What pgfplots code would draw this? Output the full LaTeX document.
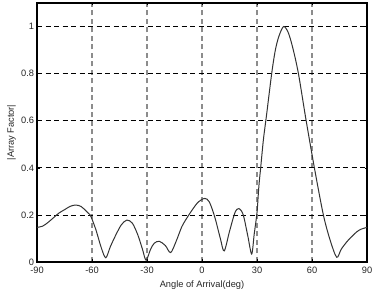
\documentclass[border=0pt]{standalone}
\usepackage{fontspec}
\setmainfont{Liberation Sans}
\usepackage{pgfplots}
\pgfplotsset{compat=1.18}
\begin{document}
\begin{tikzpicture}
\begin{axis}[name=ax,
  scale only axis, width=330bp, height=259bp,
  xmin=-90, xmax=90, ymin=0, ymax=1.1,
  xtick={-90,-60,-30,0,30,60,90},
  xticklabels={-90,-60,-30,0,30,60,90},
  ytick={0,0.2,0.4,0.6,0.8,1},
  yticklabels={0,0.2,0.4,0.6,0.8,1},
  tick label style={font=\fontsize{9.3}{11}\selectfont, color=black!85},
  label style={font=\fontsize{9.3}{11}\selectfont, color=black!85},
  xlabel={Angle of Arrival(deg)},
  ylabel={|Array Factor|},
  ylabel style={yshift=-1.5bp},
  xticklabel style={yshift=-1.5bp},
  yticklabel style={xshift=0.5bp},
  axis line style={black, line width=1.1bp},
  tick style={black, line width=0.6bp},
  tick align=inside, major tick length=2.5bp,
  xmajorgrids, ymajorgrids,
  x grid style={black!45, line width=1.1bp, dash pattern=on 5bp off 3.5bp},
  y grid style={black, line width=0.8bp, dash pattern=on 5bp off 3.5bp},
]
\addplot[color=black!80, line width=1bp, smooth, tension=0.5] coordinates {
(-90,0.147) (-87,0.152) (-84,0.168) (-81,0.188) (-78,0.208) (-75,0.222)
(-72,0.236) (-69,0.242) (-66,0.236) (-63,0.215) (-61,0.200) (-58,0.140)
(-55,0.062) (-52.5,0.018) (-50,0.065) (-47,0.115) (-44,0.158) (-41,0.178)
(-38,0.165) (-35,0.115) (-32.5,0.055) (-30.5,0.008) (-28,0.055) (-26,0.080)
(-23.3,0.088) (-20,0.070) (-17.1,0.040) (-14,0.090) (-11,0.150) (-8,0.190)
(-5,0.225) (-2,0.255) (1.5,0.270) (4,0.255) (7,0.190) (10,0.100)
(12.1,0.047) (15,0.130) (18,0.210) (20.2,0.227) (22.5,0.200) (25,0.110)
(27.1,0.034) (28.5,0.120) (30,0.210) (31,0.32) (32,0.40) (33.5,0.52)
(35.3,0.63) (38,0.80) (40,0.90) (42,0.96) (44.5,1.0) (47,0.975)
(49.5,0.91) (52.6,0.80) (56.6,0.61) (61.3,0.40) (66.2,0.20) (70,0.09)
(73.5,0.02) (76,0.055) (79.8,0.093) (84.4,0.128) (87,0.140) (90,0.147)
};
\end{axis}
\pgfresetboundingbox
\path ([shift={(-37bp,-28bp)}]ax.south west) rectangle ([shift={(8bp,3bp)}]ax.north east);
\end{tikzpicture}
\end{document}
